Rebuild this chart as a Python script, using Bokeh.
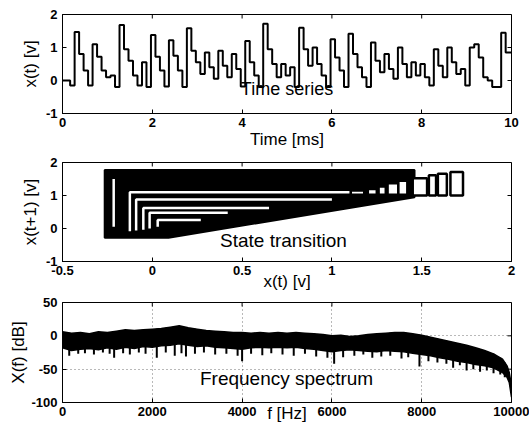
import numpy as np
from bokeh.plotting import figure
from bokeh.layouts import column
from bokeh.models import Range1d, FixedTicker, Label
from bokeh.embed import file_html
from bokeh.resources import INLINE

# ---------------- data ----------------
# time series: held values, one per 0.1 ms step
ts_values = [
    0.00, 0.00, -0.15, 1.47, 0.80, 0.30, -0.15, 1.10, 0.72, 0.30,
    0.10, 0.15, -0.20, 1.68, 0.95, 0.60, 0.15, -0.15, 0.55, -0.20,
    1.38, 0.72, 0.30, -0.18, 1.22, 0.75, 0.30, -0.20, 1.58, 0.90,
    0.55, 0.20, 0.85, 0.40, 0.05, 0.90, 0.45, 0.10, 0.80, 0.35,
    -0.18, 1.20, 0.55, 0.15, -0.20, 1.72, 0.95, 0.50, 0.10, 0.50,
    0.15, 0.40, -0.20, 1.60, 0.95, 0.45, 1.00, 0.50, 0.15, -0.20,
    1.25, 0.70, 0.30, -0.20, 1.42, 0.80, 0.40, 0.10, -0.20, 1.15,
    0.60, 0.25, 0.80, 0.35, 0.05, 1.00, 0.50, 0.10, 0.55, 0.15,
    0.50, 0.10, -0.15, 0.95, 0.45, 0.10, 1.00, 0.55, 0.20, 0.35,
    -0.15, 1.00, 1.10, 0.70, 0.10, 0.00, -0.20, -0.20, 1.45, 0.85,
]
ts_step_ms = 0.1
ts_offset_ms = -0.03
ts_end_ms = 10.0

# state transition: dense (black) region outline
st_wedge_x = [-0.265, 1.46, 1.46, 0.09, -0.265]
st_wedge_y = [1.77, 1.77, 0.95, -0.28, -0.28]
# unvisited (white) L-shaped gaps inside the dense region
st_gap_x = [[-0.125, -0.125, 1.10], [-0.09, -0.09, 1.00], [-0.05, -0.05, 0.65],
            [-0.015, -0.015, 0.42], [0.03, 0.03, 0.27], [-0.215, -0.215]]
st_gap_y = [[-0.08, 1.10, 1.10], [-0.06, 0.88, 0.88], [-0.04, 0.62, 0.62],
            [0.0, 0.48, 0.48], [0.05, 0.26, 0.26], [0.05, 1.50]]
# rectangular cycles on the right
st_box_left = [1.105, 1.20, 1.26, 1.31, 1.37, 1.45, 1.54, 1.59, 1.66]
st_box_right = [1.18, 1.25, 1.30, 1.37, 1.42, 1.53, 1.58, 1.64, 1.73]
st_box_top = [1.15, 1.20, 1.27, 1.37, 1.45, 1.52, 1.61, 1.66, 1.71]
st_box_bottom = [1.02, 1.02, 1.02, 1.02, 1.02, 1.00, 1.00, 1.00, 1.00]

# frequency spectrum envelope (Hz, dB)
spec_f = [0, 200, 400, 600, 800, 1000, 1200, 1400, 1600, 1800, 2000, 2200,
          2400, 2600, 2800, 3000, 3200, 3400, 3600, 3800, 4000, 4200, 4400,
          4600, 4800, 5000, 5200, 5400, 5600, 5800, 6000, 6200, 6400, 6600,
          6800, 7000, 7200, 7400, 7600, 7800, 8000, 8200, 8400, 8600, 8800,
          9000, 9200, 9400, 9600, 9800, 9900, 9950, 10000]
spec_top = [6, 4, 5, 3, 6, 5, 7, 9, 8, 9, 10, 11, 13, 15, 12, 10, 8, 7, 6, 5,
            5, 4, 5, 4, 5, 4, 5, 4, 3, 2, 0, 1, -1, 0, 2, 3, 4, 5, 5, 3, 1, -2,
            -5, -8, -11, -14, -18, -22, -27, -35, -45, -55, -75]
spec_low = [-18, -22, -20, -19, -21, -18, -20, -17, -19, -16, -17, -15, -14,
            -12, -14, -16, -15, -17, -18, -19, -20, -18, -17, -18, -17, -18,
            -17, -19, -20, -22, -24, -22, -21, -22, -23, -24, -22, -23, -24,
            -26, -28, -30, -33, -35, -38, -40, -43, -45, -48, -55, -62, -70, -92]
spike_f = [150, 350, 500, 700, 900, 1050, 1150, 1350, 1500, 1700, 1850, 2100,
           2300, 2500, 2650, 2750, 2950, 3150, 3400, 3650, 3900, 4000, 4200,
           4450, 4650, 4900, 5150, 5400, 5650, 5900, 6050, 6250, 6500, 6700,
           6900, 7100, 7300, 7550, 7700, 7950, 8150, 8350, 8550, 8700, 8850,
           9000, 9150, 9300, 9450, 9600, 9750, 9850]
spike_db = [-30, -27, -26, -28, -25, -27, -33, -26, -28, -25, -27, -33, -25,
            -30, -26, -31, -27, -25, -28, -27, -30, -38, -27, -29, -26, -28,
            -30, -27, -31, -33, -42, -32, -30, -28, -33, -31, -30, -34, -32,
            -46, -38, -40, -42, -48, -44, -52, -50, -54, -52, -56, -58, -62]

# axes ticks / labels
t1_xt = [0, 2, 4, 6, 8, 10]
t1_xl = ["0", "2", "4", "6", "8", "10"]
t1_yt = [-1, 0, 1, 2]
t1_yl = ["-1", "0", "1", "2"]
t2_xt = [-0.5, 0, 0.5, 1, 1.5, 2]
t2_xl = ["-0.5", "0", "0.5", "1", "1.5", "2"]
t2_yt = [-1, 0, 1, 2]
t2_yl = ["-1", "0", "1", "2"]
t3_xt = [0, 2000, 4000, 6000, 8000, 10000]
t3_xl = ["0", "2000", "4000", "6000", "8000", "10000"]
t3_yt = [-100, -50, 0, 50]
t3_yl = ["-100", "-50", "0", "50"]

FONT = "Liberation Sans"
FRAME_W = 449
TICK_LEN = 4


def style_axis(ax, ticks, labels):
    ax.ticker = FixedTicker(ticks=ticks)
    ax.axis_line_color = "black"
    ax.axis_line_width = 1
    ax.major_tick_in = TICK_LEN
    ax.major_tick_out = 0
    ax.minor_tick_in = 0
    ax.minor_tick_out = 0
    ax.major_tick_line_color = "black"
    ax.major_label_overrides = {t: l for t, l in zip(ticks, labels)}
    ax.major_label_text_font = FONT
    ax.major_label_text_font_size = "13px"
    ax.major_label_text_font_style = "bold"
    ax.major_label_text_color = "black"


def make_fig(xr, yr, xt, xl, yt, yl, xlabel, ylabel, top, bottom, fh,
             xstand, ystand):
    p = figure(frame_width=FRAME_W, frame_height=fh,
               x_range=Range1d(*xr), y_range=Range1d(*yr),
               output_backend="svg", toolbar_location=None,
               min_border_left=62, min_border_right=18,
               min_border_top=top, min_border_bottom=bottom)
    p.background_fill_color = "white"
    p.border_fill_color = "white"
    p.outline_line_color = "black"
    p.outline_line_width = 1
    style_axis(p.xaxis[0], xt, xl)
    style_axis(p.yaxis[0], yt, yl)
    p.xaxis[0].major_label_standoff = 4
    p.yaxis[0].major_label_standoff = 5
    for ax, lab, st in ((p.xaxis[0], xlabel, xstand), (p.yaxis[0], ylabel, ystand)):
        ax.axis_label = lab
        ax.axis_label_text_font = FONT
        ax.axis_label_text_font_size = "17px"
        ax.axis_label_text_font_style = "normal"
        ax.axis_label_text_color = "black"
        ax.axis_label_standoff = st
    p.grid.visible = False
    # inward ticks on the top and right edges of the box
    dx = (xr[1] - xr[0]) * TICK_LEN / FRAME_W
    dy = (yr[1] - yr[0]) * TICK_LEN / fh
    p.segment(x0=[xr[1]] * len(yt), y0=yt, x1=[xr[1] - dx] * len(yt), y1=yt,
              line_color="black", line_width=1)
    p.segment(x0=xt, y0=[yr[1]] * len(xt), x1=xt, y1=[yr[1] - dy] * len(xt),
              line_color="black", line_width=1)
    return p


# ---------- panel 1: time series ----------
p1 = make_fig((0, 10), (-1, 2), t1_xt, t1_xl, t1_yt, t1_yl,
              "Time [ms]", "x(t) [v]", 14, 39, 99, 0, 3)
v = np.array(ts_values)
t = np.clip(np.arange(len(v)) * ts_step_ms + ts_offset_ms, 0, None)
t_edges = np.append(t, ts_end_ms)
v_edges = np.append(v, v[-1])
p1.step(t_edges, v_edges, mode="after", line_color="black", line_width=2)
p1.add_layout(Label(x=5.0, y=-0.25, text="Time series", text_align="center",
                    text_baseline="middle", text_font=FONT,
                    text_font_size="18px", text_color="black"))

# ---------- panel 2: state transition x(t+1) vs x(t) ----------
p2 = make_fig((-0.5, 2), (-1, 2), t2_xt, t2_xl, t2_yt, t2_yl,
              "x(t) [v]", "x(t+1) [v]", 10, 33, 99, -6, 3)
p2.patch(st_wedge_x, st_wedge_y, fill_color="black", line_color="black",
         line_width=2)
p2.multi_line(st_gap_x, st_gap_y, line_color="white", line_width=2.5)
p2.quad(left=st_box_left, right=st_box_right, top=st_box_top,
        bottom=st_box_bottom, fill_color="white", line_color="black",
        line_width=2.5)
p2.add_layout(Label(x=0.73, y=-0.36, text="State transition", text_align="center",
                    text_baseline="middle", text_font=FONT,
                    text_font_size="19px", text_color="black"))

# ---------- panel 3: frequency spectrum ----------
p3 = make_fig((0, 10000), (-100, 50), t3_xt, t3_xl, t3_yt, t3_yl,
              "f [Hz]", "X(f) [dB]", 8, 23, 100, -15, 0)
p3.xgrid.visible = True
p3.ygrid.visible = True
p3.xgrid.ticker = FixedTicker(ticks=t3_xt)
p3.ygrid.ticker = FixedTicker(ticks=t3_yt)
for g in (p3.xgrid[0], p3.ygrid[0]):
    g.grid_line_color = "black"
    g.grid_line_alpha = 0.55
    g.grid_line_dash = "1 3"
    g.grid_line_width = 1
p3.varea(x=spec_f, y1=spec_low, y2=spec_top, fill_color="black")
p3.line(spec_f, spec_top, line_color="black", line_width=1.5)
p3.line(spec_f, spec_low, line_color="black", line_width=1.5)
spike_top = np.interp(spike_f, spec_f, spec_top)
p3.segment(x0=spike_f, y0=spike_db, x1=spike_f, y1=spike_top,
           line_color="black", line_width=2)
p3.add_layout(Label(x=4990, y=-64, text="Frequency spectrum", text_align="center",
                    text_baseline="middle", text_font=FONT,
                    text_font_size="19px", text_color="black"))

layout = column(p1, p2, p3, spacing=0)
open("out.html", "w").write(file_html(layout, INLINE))
